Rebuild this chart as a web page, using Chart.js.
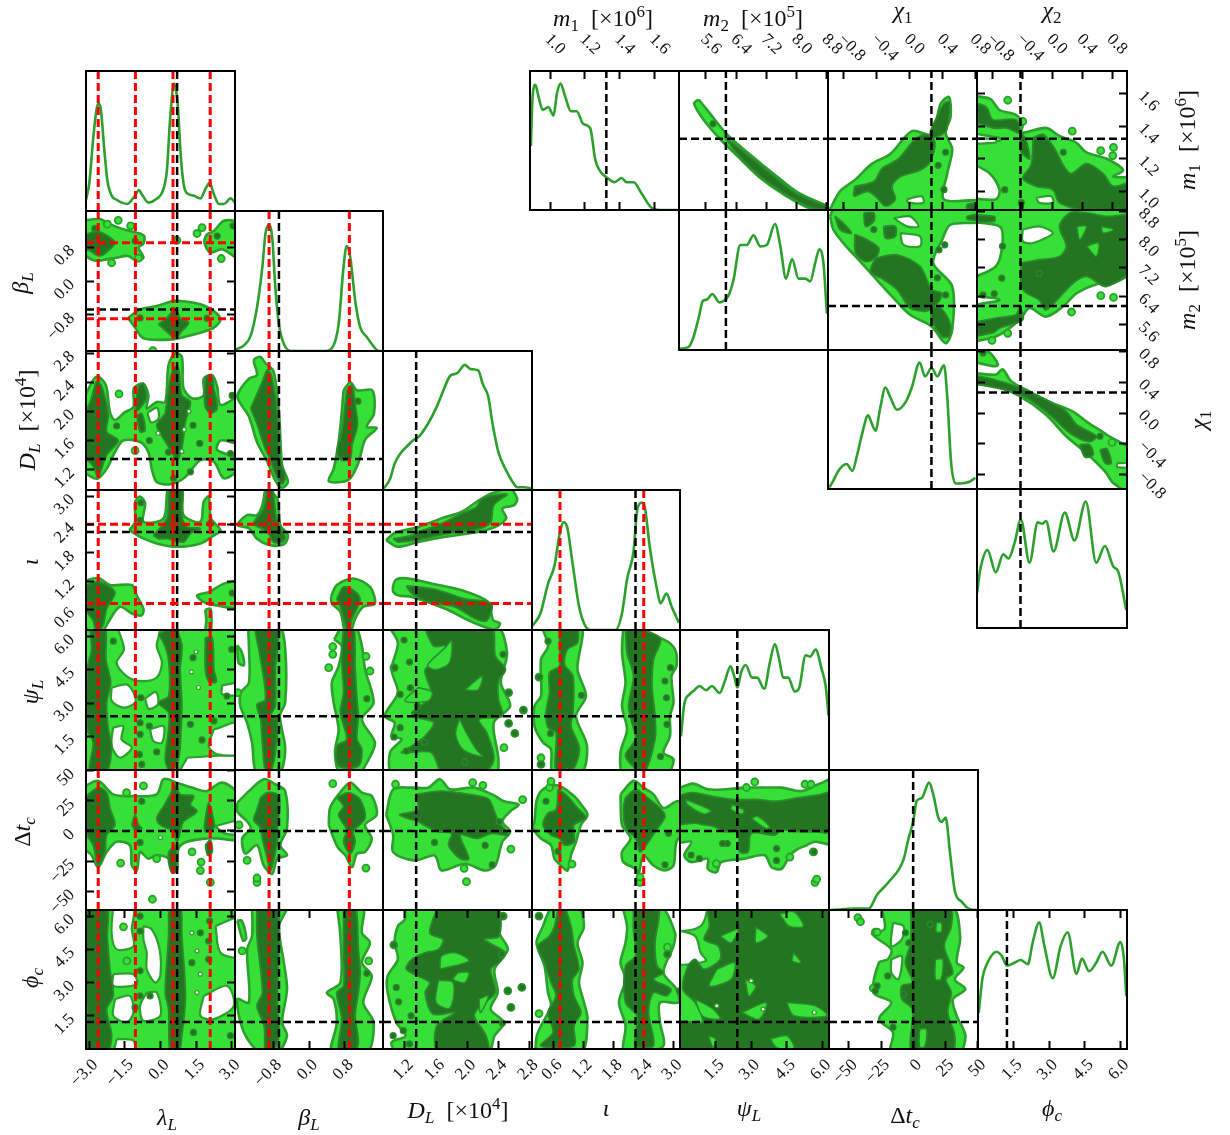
<!DOCTYPE html>
<html><head><meta charset="utf-8"><title>Corner plot</title>
<script src="https://cdn.jsdelivr.net/npm/chart.js@4"></script>
<style>
html,body{margin:0;padding:0;background:#fff;width:1230px;height:1135px;overflow:hidden}
#fig{position:relative;width:1230px;height:1135px}
canvas{position:absolute}
.lab{position:absolute;font-family:"Liberation Serif",serif;font-size:24px;color:#111;white-space:nowrap;line-height:1}
.lab sub{font-size:17px;vertical-align:-5px;line-height:0}
.lab sup{font-size:17px;vertical-align:9px;line-height:0}
</style></head><body><div id="fig"></div>
<script>
// ---- axis ranges, ticks, true values, secondary (red) values ----
const lamRange=[-3.14,3.14], lamTicks=[-3,-1.5,0,1.5,3], lamTrue=[0.7], lamRed=[-2.625,-1.057,0.527,2.095];
const betaRange=[-1.65,1.65], betaTicks=[-0.8,0,0.8], betaTrue=[-0.67], betaRed=[-0.89,0.9];
const distRange=[0.92,2.83], distTicks=[1.2,1.6,2,2.4,2.8], distTrue=[1.345], distRed=[];
const iotaRange=[0.17,3.13], iotaTicks=[0.6,1.2,1.8,2.4,3], iotaTrue=[2.24], iotaRed=[0.73,2.405];
const psiRange=[0,6.28], psiTicks=[1.5,3,4.5,6], psiTrue=[2.415], psiRed=[];
const dtRange=[-65.5,50.5], dtTicks=[-50,-25,0,25,50], dtTrue=[0], dtRed=[];
const phiRange=[0,6.28], phiTicks=[1.5,3,4.5,6], phiTrue=[1.22], phiRed=[];
const m1Range=[0.885,1.74], m1Ticks=[1,1.2,1.4,1.6], m1True=[1.323], m1Red=[];
const m2Range=[4.89,8.83], m2Ticks=[5.6,6.4,7.2,8,8.8], m2True=[6.13], m2Red=[];
const chi1Range=[-0.985,0.82], chi1Ticks=[-0.8,-0.4,0,0.4,0.8], chi1True=[0.268], chi1Red=[];
const chi2Range=[-1,1], chi2Ticks=[-0.8,-0.4,0,0.4,0.8], chi2True=[-0.42], chi2Red=[];

// ---- 1-D marginals: x values and heights (fraction of the panel's height) ----
const lamX=[-3.14,-3,-2.83,-2.69,-2.61,-2.51,-2.38,-2.24,-2.06,-1.85,-1.63,-1.39,-1.21,-1.07,-0.91,-0.79,-0.5,-0.22,0.13,0.27,0.41,0.58,0.72,0.87,1,1.19,1.4,1.68,1.9,2.07,2.25,2.46,2.67,2.96,3.14];
const lamH=[0.08,0.2,0.53,0.73,0.77,0.72,0.46,0.22,0.11,0.08,0.06,0.05,0.08,0.11,0.15,0.12,0.06,0.08,0.16,0.29,0.67,0.91,0.77,0.36,0.17,0.12,0.11,0.09,0.16,0.2,0.12,0.05,0.05,0.09,0.06];
const betaX=[-1.64,-1.45,-1.3,-1.16,-1.04,-0.97,-0.9,-0.82,-0.75,-0.67,-0.56,-0.41,0.36,0.51,0.66,0.77,0.84,0.92,1.03,1.14,1.29,1.4,1.55,1.64];
const betaH=[0.01,0.04,0.11,0.31,0.6,0.84,0.9,0.81,0.45,0.19,0.05,0,0,0.02,0.19,0.6,0.75,0.67,0.36,0.17,0.1,0.05,0,0];
const distX=[0.93,1.01,1.07,1.14,1.22,1.31,1.39,1.5,1.61,1.69,1.78,1.87,1.97,2.04,2.14,2.2,2.27,2.32,2.36,2.4,2.49,2.58,2.64,2.73,2.82];
const distH=[0.01,0.08,0.19,0.26,0.31,0.36,0.39,0.48,0.6,0.71,0.82,0.84,0.9,0.87,0.86,0.76,0.67,0.49,0.37,0.27,0.15,0.06,0.02,0.02,0.01];
const iotaX=[0.18,0.34,0.49,0.62,0.72,0.8,0.87,0.98,1.11,1.25,1.35,1.84,1.97,2.07,2.2,2.28,2.37,2.43,2.53,2.67,2.74,2.86,2.96,3.11];
const iotaH=[0.03,0.12,0.33,0.46,0.68,0.77,0.74,0.48,0.17,0.02,0,0,0.12,0.36,0.56,0.87,0.91,0.87,0.58,0.29,0.19,0.26,0.17,0.05];
const psiX=[0.04,0.18,0.4,0.61,0.82,1.1,1.34,1.67,1.88,2.13,2.27,2.42,2.58,2.77,3.04,3.25,3.55,3.79,4,4.17,4.35,4.56,4.84,5.01,5.3,5.48,5.72,5.97,6.14,6.26];
const psiH=[0.24,0.47,0.54,0.57,0.6,0.57,0.6,0.55,0.63,0.74,0.68,0.59,0.7,0.75,0.66,0.66,0.58,0.77,0.9,0.8,0.66,0.66,0.56,0.58,0.82,0.81,0.86,0.72,0.6,0.39];
const dtX=[-63.6,-45,-34.6,-28,-19,-7.5,-3.6,0,2.8,6.7,12.4,15.8,19.6,22.2,25.3,28.7,32.6,37.7,44.2,50];
const dtH=[0,0.01,0.01,0.11,0.2,0.36,0.51,0.63,0.78,0.8,0.91,0.82,0.66,0.63,0.66,0.41,0.13,0.06,0.005,0];
const phiX=[0.03,0.18,0.4,0.78,1,1.23,1.53,1.8,2.1,2.31,2.58,2.8,3.15,3.48,3.78,4.15,4.38,4.68,4.98,5.25,5.62,6,6.15,6.25];
const phiH=[0.26,0.5,0.62,0.7,0.67,0.6,0.62,0.64,0.61,0.77,0.91,0.74,0.51,0.74,0.84,0.54,0.65,0.56,0.62,0.7,0.6,0.77,0.65,0.38];
const m1X=[0.89,0.9,0.916,0.933,0.958,0.99,1.02,1.04,1.06,1.086,1.12,1.153,1.19,1.23,1.26,1.287,1.33,1.37,1.41,1.44,1.48,1.52,1.59,1.65,1.74];
const m1H=[0.46,0.82,0.9,0.82,0.72,0.74,0.68,0.84,0.91,0.82,0.71,0.71,0.62,0.59,0.36,0.28,0.23,0.2,0.23,0.2,0.2,0.13,0.01,0,0];
const m2X=[4.92,5.14,5.27,5.41,5.52,5.63,5.77,5.96,6.07,6.2,6.33,6.51,6.68,6.86,7.04,7.21,7.43,7.57,7.72,7.88,8.05,8.23,8.36,8.49,8.6,8.71,8.8];
const m2H=[0.01,0.02,0.09,0.23,0.35,0.36,0.4,0.34,0.35,0.39,0.5,0.75,0.75,0.82,0.74,0.75,0.9,0.74,0.51,0.65,0.51,0.51,0.49,0.62,0.72,0.62,0.26];
const chi1X=[-0.97,-0.92,-0.86,-0.76,-0.69,-0.63,-0.57,-0.5,-0.46,-0.41,-0.35,-0.29,-0.23,-0.15,-0.04,0.03,0.125,0.19,0.27,0.34,0.42,0.46,0.505,0.56,0.62,0.72,0.8];
const chi1H=[0.01,0.06,0.13,0.18,0.13,0.25,0.4,0.53,0.48,0.42,0.59,0.73,0.66,0.57,0.63,0.73,0.91,0.81,0.87,0.81,0.89,0.66,0.2,0.04,0.04,0.05,0.08];
const chi2X=[-1,-0.96,-0.86,-0.75,-0.65,-0.58,-0.5,-0.415,-0.3,-0.19,-0.13,-0.08,0.02,0.17,0.3,0.45,0.59,0.705,0.82,0.88,0.99];
const chi2H=[0.25,0.41,0.56,0.4,0.53,0.5,0.61,0.78,0.47,0.76,0.75,0.77,0.55,0.83,0.63,0.91,0.47,0.59,0.44,0.41,0.13];

// ---- 2-D contours: flat x,y lists in data units ----
const lamBetaLight=[[-3.3,1.42,-2.56,1.46,-2.13,1.34,-1.57,1.22,-1,1.14,-0.69,1.06,-0.72,0.88,-0.93,0.79,-0.72,0.55,-1,0.47,-1.36,0.59,-1.85,0.55,-2.27,0.51,-2.7,0.47,-3.05,0.55,-3.3,0.71],[3.3,1.42,2.67,1.42,2.25,1.18,1.96,1.1,1.85,0.91,2.1,0.67,2.6,0.75,3.3,0.55],[-1.36,-0.87,-0.86,-0.67,-0.16,-0.59,0.55,-0.47,1.12,-0.49,1.68,-0.55,2.25,-0.71,2.53,-0.91,2.25,-1.1,1.68,-1.22,1.12,-1.3,0.41,-1.38,-0.72,-1.35,-1.07,-1.1]];
const lamBetaDark=[[-3.3,1.06,-2.7,1.17,-2.34,1.1,-1.92,0.91,-2.2,0.71,-2.56,0.59,-2.98,0.71,-3.3,0.79],[-0.08,-1.02,0.27,-0.87,0.62,-0.67,0.83,-0.87,1.19,-0.98,0.9,-1.18,0.62,-1.34,0.27,-1.2]];
const lamBetaDots=[-1.07,0.94,-0.86,-0.87,1.96,-0.88,2.39,1.06,3.06,1.3,-2.77,1.24];
const lamBetaSpots=[-1.78,1.43,-1.26,1.3,-2.06,0.43,-0.93,0.54,1.75,1.26,1.54,1.12,2.56,0.53,-0.32,-1.64,0.69,0.96,-2.24,1.34];

const lamDistLight=[[-3.3,2.13,-2.84,2.43,-2.63,2.48,-2.3,2.36,-2.13,1.99,-1.92,1.88,-1.5,1.99,-1.14,2.06,-1.12,2.32,-0.72,2.38,-0.51,2.22,-0.58,2.04,-0.16,2.13,0.2,2.13,0.34,2.64,0.62,2.8,0.9,2.75,0.97,2.32,1.33,2.18,1.82,2.22,1.82,2.45,2.18,2.5,2.39,2.34,2.53,2.09,3.3,2.18,3.3,1.58,2.53,1.6,2.39,1.47,3.3,1.35,3.3,1.21,2.67,1.08,2.25,1.31,1.68,1.33,1.05,1.1,0.41,1,-0.16,1.03,-0.37,1.21,-0.51,1.44,-0.86,1.58,-1.57,1.6,-1.92,1.44,-2.27,1.21,-2.63,1.08,-2.91,1.1,-3.3,1.21]];
const lamDistVoid=[[-0.55,1.98,-0.15,2.05,-0.08,1.9,-0.4,1.85]];
const lamDistDark=[[-3.3,1.86,-2.91,2.18,-2.7,2.41,-2.49,2.36,-2.2,1.95,-2.27,1.72,-1.78,1.6,-2.27,1.4,-2.63,1.1,-2.84,1.25,-3.3,1.42],[0.2,1.97,0.41,2.45,0.58,2.61,0.76,2.59,0.9,2.22,1.26,2.13,1.05,1.86,0.9,1.49,0.69,1.33,0.48,1.44,-0.01,1.7,-0.16,1.81],[-1.07,2,-0.93,2.34,-0.72,2.38,-0.6,2.18,-0.93,2.02],[-1,1.95,-0.79,1.97,-0.65,1.74,-0.86,1.72],[1.85,2.22,1.93,2.48,2.18,2.48,2.25,2.32,2.39,2.04,2.1,1.97,1.89,2.06]];
const lamDistDots=[-1.85,1.8,-0.47,1.6,1.37,1.81,1.26,1.17,1.65,1.56,0.34,1.44,0.55,1.08,2.95,1.42,3.02,2.22];
const lamDistSpots=[-1.07,1.46,-1.75,2.24];
const lamDistPores=[1.2,2,1,1.75,-0.1,1.7,0.9,1.45];

const lamIotaLight=[[-1.31,2.28,-1.07,2.46,-1.07,2.88,-0.86,2.99,-0.65,2.85,-0.72,2.46,0.13,2.53,0.34,3.2,0.9,3.2,0.97,2.6,1.68,2.46,1.82,2.88,2.03,2.99,2.13,2.53,2.53,2.28,2.25,2.17,1.68,2,0.69,1.93,-0.16,2,-0.86,2.14],[-3.3,1.19,-2.63,1.27,-2.13,1.12,-1.21,1.12,-1,0.9,-0.72,0.62,-0.79,0.48,-1.21,0.52,-1.71,0.66,-2.2,0.34,-2.49,0.1,-2.98,0.1,-3.3,0.55],[3.3,1.22,2.67,1.15,2.03,0.97,1.54,0.9,1.82,0.76,2.25,0.7,3.3,0.66],[1.89,0.6,2.1,0.62,2.15,0.4,2.1,0.1,1.9,0.1,1.93,0.37]];
const lamIotaDark=[[-0.3,2.17,0.27,2.53,0.41,3.2,0.9,3.2,0.9,2.6,1.12,2.35,1.68,2.32,1.26,2.21,0.97,2.03,0.27,2.1,-0.08,2.1],[-3.3,1.08,-2.63,1.19,-1.92,0.97,-2.27,0.62,-2.42,0.27,-2.7,0.1,-2.84,0.37,-3.3,0.69]];
const lamIotaDots=[-0.83,2.86,-0.86,2.49,2.08,2.42,3.02,0.95];

const lamPsiLight=[[-3.6,6.6,3.6,6.6,3.6,-0.4,-3.6,-0.4]];
const lamPsiVoid=[[-1.78,6.3,-1.54,5.41,-1.85,4.81,-1.43,4.21,-0.86,3.99,-0.16,4.14,0.06,4.81,-0.16,5.56,-0.08,6.3],[-2.06,3.69,-1.43,3.84,-1.14,3.47,-1.07,3.02,-1.57,2.8,-2.06,3.1],[-0.65,3.2,-0.2,3.5,-0.1,2.95,-0.5,2.75],[-2,1.9,-1.57,1.97,-1.64,1.37,-1.21,1,-1.71,0.55,-2.06,1.08],[-0.44,1.82,0.13,1.97,0.06,1.23,-0.3,1.3],[2.25,1.82,3.4,2.12,3.4,0.78,2.39,0.7,2.03,1.08],[1.12,0.55,3.4,0.6,3.4,-0.2,0.83,-0.2],[2.6,3.8,3.4,3.9,3.4,3.4,2.6,3.4]];
const lamPsiDark=[[-2.98,6.4,-2.34,6.4,-2.3,4.96,-2.1,3.92,-2.27,3.02,-2.2,1.82,-2.06,1.08,-2.27,-0.1,-2.98,-0.1,-2.84,1.23,-3.09,1.82,-3.09,4.51,-2.91,5.41],[-0.08,6.08,0.55,6.4,0.9,5.63,0.83,4.51,0.9,3.02,0.87,1.97,0.76,0.48,0.41,-0.1,0.2,0.48,0.34,1.82,0.34,2.57,-0.08,3.02,0.34,3.32,0.34,4.96,0.13,5.71],[1.89,5.93,2.18,5.93,2.25,4.51,2.35,3.95,2.05,3.95,1.89,4.51]];
const lamPsiDots=[-1.99,5.78,1.37,5.04,3,5.41,2.8,3.32,-0.83,3.24,-0.86,2.12,-0.47,1.97,-0.86,1.6,-0.16,0.81,1.26,2.05,1.75,1.35,2.25,2.2,-0.89,0.7,-0.79,0.25];
const lamPsiPores=[1.6,3.7,1.3,4.4,1.5,5.3];

const lamDtLight=[[-3.3,35.9,-2.63,41.5,-1.99,30.3,-1.14,28.9,-0.16,30.3,0.13,42.9,0.69,40,1.33,35.9,1.96,33,2.53,40,3.02,35.9,3.3,27.5,3.3,-6.2,2.39,-6.2,1.96,-6.2,1.12,-9,0.76,-14.6,0.69,-32.8,0.48,-34,0.34,-23,-0.16,-20,-0.51,-23,-0.86,-17.4,-1,-32.8,-1.21,-28.6,-1.29,-11.8,-1.85,-9,-2.27,-17.4,-2.63,-30,-2.91,-20,-3.3,-11.8]];
const lamDtVoid=[[2.3,4,3.3,8,3.3,-2,2.7,-2]];
const lamDtDark=[[-3.3,26,-2.63,35.9,-2.27,31.7,-2.13,19,-1.92,5,-2.27,-3.4,-2.34,-17.4,-2.63,-28.6,-2.84,-11.8,-3.09,-3.4,-3.3,7.8],[0.13,20.4,0.41,30.3,0.62,38.7,0.83,30.3,1.4,28.9,1.26,21.8,1.54,16.2,0.97,7.8,0.83,-0.6,0.69,-9,0.55,-0.6,-0.01,5,-0.16,10.6],[0.34,-17.4,0.62,-11.8,0.69,-32.8,0.48,-34,0.34,-25.8],[-1.21,5,-1.07,13.4,-0.93,5,-0.79,2.2,-1.07,0.8],[1.85,5,2.03,23.2,2.25,7.8,2.25,2.2,1.89,-0.6],[1.89,-11.8,2.1,-7.6,2.18,-17.4,1.99,-20.2]];
const lamDtDots=[-0.79,24.6,-0.86,-9.5];
const lamDtSpots=[1.33,-17.4,-1.68,-26.6,1.71,-25.8,1.68,-32.8,2.1,-42.6,-0.34,-56.6,-0.72,37.3,-1.43,31.7,-0.16,-23];
const lamDtPores=[0,-5.5];

const lamPhiLight=[[-3.6,6.6,3.6,6.6,3.6,-0.4,-3.6,-0.4]];
const lamPhiVoid=[[-2,6.4,-1.14,6.4,-1.21,5.41,-1.14,4.65,-1.85,4.5,-2.06,5.2],[-0.72,5.56,-0.37,5.41,-0.04,4.5,-0.01,3.3,-0.22,3,-0.58,3.6,-0.58,4.35,-0.72,4.95],[-1.99,3.38,-1.14,3.38,-1,2.93,-1.99,2.85],[-1.92,2.25,-1.29,2.4,-1.14,1.65,-1.43,1.2,-1.99,1.5],[-0.58,2.55,-0.16,2.55,-0.01,1.5,-0.72,1.28,-0.86,1.95],[2.32,5.56,3.4,5.93,3.4,4.2,2.53,4.35],[1.82,2.4,2.81,2.85,3.09,1.95,2.25,1.35,1.68,1.5],[-1.85,0.45,-1.14,0.38,-1.14,-0.2,-1.92,-0.2]];
const lamPhiDark=[[-3.3,6.5,-2.27,6.5,-2.24,5.1,-2.13,3.6,-1.99,2.4,-2.27,1.8,-2.06,0.6,-2.27,-0.2,-3.09,-0.2,-3.09,1.8,-3.3,3],[0.34,6.5,0.83,6.5,0.9,5.1,1.05,2.4,0.9,0.6,0.76,-0.2,0.41,-0.2,0.34,1.8,0.2,2.55,0.34,5.1]];
const lamPhiDots=[-0.86,6,-0.86,5.33,-0.86,3.53,-0.86,2.4,-1.07,1.88,-0.44,2.4,1.32,3.9,1.68,5.25,2.03,4.88,2.03,4.05,2.07,5.78,2.95,0.6,1.39,0.75];
const lamPhiSpots=[-1.56,5.52,-1.42,3.98];
const lamPhiPores=[1.68,3.38,1.54,2.55,1.32,5.25,1.54,4.43];

const betaDistLight=[[-1.21,2.73,-1.08,2.75,-0.97,2.66,-0.79,2.55,-0.67,1.99,-0.6,1.26,-0.47,1.03,-0.6,0.95,-0.75,1.05,-0.93,1.31,-1.16,1.58,-1.34,1.93,-1.53,2.11,-1.6,2.22,-1.34,2.45,-1.16,2.5,-1.23,2.68],[0.77,2.29,0.92,2.4,1.07,2.29,1.41,2.29,1.45,1.97,1.29,1.79,1.51,1.77,1.25,1.61,1.1,1.29,0.88,1.06,0.44,1.04,0.55,1.21,0.66,1.58,0.73,1.99]];
const betaDistDark=[[-1.3,2.04,-1.04,2.41,-0.93,2.57,-0.84,2.5,-0.71,1.99,-0.65,1.35,-0.53,1.1,-0.6,1,-0.75,1.14,-0.86,1.33,-1.01,1.54,-1.16,1.83],[0.84,2.29,0.96,2.36,1.03,2.09,1.08,1.81,0.96,1.54,0.92,1.35,0.73,1.33,0.62,1.44,0.73,1.71]];
const betaDistDots=[1.09,2.14];

const betaIotaLight=[[-0.97,3.2,-0.71,2.95,-0.64,2.39,-0.47,2.17,-0.56,1.98,-0.86,1.96,-1.16,2.1,-1.34,2.32,-1.59,2.39,-1.38,2.6,-1.16,2.6,-1.04,2.81],[0.49,0.87,0.62,1.12,0.99,1.26,1.36,1.08,1.47,0.73,1.21,0.66,1.03,0.41,0.92,0.1,0.81,0.1,0.7,0.55,0.51,0.73]];
const betaIotaDark=[[-0.93,3.2,-0.82,3.2,-0.71,2.44,-0.53,2.14,-0.6,2.03,-0.79,2.03,-0.93,2.25,-1.23,2.42,-1.01,2.74],[0.62,0.83,0.77,1.08,0.99,1.01,1.14,0.83,1.07,0.62,0.96,0.41,0.88,0.1,0.77,0.41,0.7,0.66]];

const betaPsiLight=[[-1.36,6.5,-0.67,6.5,-0.53,5.41,-0.53,3.02,-0.65,2.43,-0.53,0.93,-0.67,-0.2,-1.16,-0.2,-1.27,1.23,-1.38,2.12,-1.53,2.87,-1.52,3.47,-1.34,3.92,-1.34,5.56],[-1.6,5.6,-1.5,5.3,-1.45,4.7,-1.57,4.8],[0.56,5.86,0.77,6.5,1.03,6.5,1.18,5.56,1.25,4.51,1.44,3.02,1.18,2.27,1.47,1.23,1.33,0.48,1.1,-0.2,0.7,-0.2,0.58,0.78,0.66,1.82,0.55,3.02,0.51,3.92,0.66,4.66,0.73,5.56]];
const betaPsiDark=[[-1.23,6.5,-0.71,6.5,-0.75,4.51,-0.75,2.87,-0.86,2.42,-0.71,2.27,-0.75,0.78,-0.86,-0.1,-0.97,-0.1,-1.04,1.23,-1.08,2.27,-1.16,2.94,-0.97,3.17,-1.08,4.96],[0.77,6.5,0.99,6.5,1.03,4.51,1.07,3.17,1.1,2.42,1.07,1.38,1.18,0.93,1.1,0.18,0.66,0.18,0.62,1.08,0.84,1.38,0.7,2.57,0.77,3.47,0.73,4.96]];
const betaPsiDots=[1.29,3.2];
const betaPsiSpots=[0.44,4.59,0.53,5.53,0.53,5.19,1.36,4.44,1.27,5.1,-1.59,3.47];

const betaDtLight=[[-1.6,23.2,-1.34,33,-1.01,42.9,-0.75,38.7,-0.53,33,-0.49,2.2,-0.64,-11.8,-0.49,-20.2,-0.71,-23,-0.82,-35.6,-1.01,-28.6,-1.16,-11.8,-1.42,-18.8,-1.49,-6.2,-1.3,2.2,-1.38,7.8,-1.6,16.2],[0.44,5,0.47,19,0.66,30.3,0.92,40,1.18,31.7,1.4,28.9,1.51,13.4,1.25,5,1.4,-6.2,1.25,-17.4,1.07,-18.8,0.96,-30,0.81,-20.2,0.66,-14.6,0.55,-6.2]];
const betaDtDark=[[-1.08,27.5,-0.93,31.7,-0.71,30.3,-0.65,21.8,-0.71,2.2,-0.71,-9,-0.86,-32.8,-0.93,-23,-1.04,-6.2,-1.08,2.2,-1.23,9.2,-1.16,17.6],[0.62,27.5,0.88,31.7,1.14,26,1.25,10.6,0.99,-0.6,1.03,-9,0.92,-18.8,0.77,-9,0.84,0.8,0.66,13.4,0.77,20.4]];
const betaDtSpots=[-1.16,-42.6,-1.16,-39,-1.38,-24.4,-1.56,5,0.53,39.2,1.27,-30.8];

const betaPhiLight=[[-1.27,6.5,-0.49,6.5,-0.67,5.55,-0.56,3.9,-0.49,2.7,-0.6,1.2,-0.49,0.6,-0.71,-0.2,-1.08,-0.2,-1.45,0.75,-1.6,2.25,-1.34,2.1,-1.38,4.5,-1.27,5.1],[-1.6,5.8,-1.5,5.8,-1.4,5,-1.47,4.9],[0.62,6.5,1.21,6.5,1.18,5.25,1.36,4.8,1.18,3.9,1.4,3.3,1.21,2.1,1.44,1.2,1.29,-0.2,0.51,-0.2,0.62,1.2,0.55,2.25,0.4,2.55,0.7,3,0.7,5.1]];
const betaPhiDark=[[-1.16,6.5,-0.71,6.5,-0.71,2.1,-0.67,0.6,-0.82,-0.2,-0.97,-0.2,-1,1.05,-1.16,1.95,-1.04,2.55,-1.16,5.1],[0.77,6.5,1.03,6.5,1.1,4.5,1.14,3.45,1.1,2.55,1.03,1.5,1.1,0.3,0.99,-0.2,0.66,-0.2,0.73,1.35,0.62,2.55,0.77,2.85,0.77,4.5]];
const betaPhiDots=[1.29,3.42];
const betaPhiSpots=[1.33,3.98,-1.49,4.43];

const distIotaLight=[[0.96,2.07,1.07,2.22,1.37,2.35,1.67,2.53,1.93,2.67,2.12,2.88,2.32,3.06,2.55,3.15,2.64,2.95,2.6,2.81,2.45,2.74,2.5,2.53,2.36,2.35,2.15,2.25,1.72,2.14,1.37,2.03,1.11,1.93],[1.05,1.12,1.09,1.24,1.24,1.26,1.63,1.12,1.93,1.01,2.27,0.76,2.33,0.38,2.42,0.31,2.36,0.18,2.23,0.23,2.02,0.37,1.72,0.62,1.29,0.87,1.12,0.9,1.05,0.98]];
const distIotaDark=[[1.05,2.1,1.29,2.17,1.37,2.24,1.67,2.42,1.93,2.63,2.12,2.77,2.19,2.95,2.51,3.04,2.34,2.81,2.3,2.45,2.15,2.31,1.72,2.2,1.41,2.09,1.11,2.03],[1.22,1.1,1.37,1.08,1.63,1.01,1.97,0.83,2.31,0.73,2.25,0.37,2.1,0.41,1.84,0.66,1.5,0.76,1.29,0.94]];

const distPsiLight=[[0.98,6.5,2.36,6.5,2.51,5.26,2.43,3.92,2.55,2.87,2.34,2.12,2.4,0.48,2.36,-0.2,1.05,-0.2,1.01,0.78,1.16,1.38,1.03,1.52,1.07,2.12,0.94,2.42,1.11,3.47,1.03,4.51,1.11,5.71]];
const distPsiDark=[[1.44,6.5,2.3,6.5,2.36,5.11,2.49,4.51,2.4,3.99,2.4,3.17,2.45,2.42,2.15,2.27,2.25,1.67,2.34,0.48,2.19,-0.2,1.69,-0.2,1.54,0.78,1.16,0.78,1.29,1.08,1.46,1.52,1.57,2.12,1.37,2.35,1.29,2.57,1.54,3.32,1.46,4.51,1.67,4.81,1.72,5.56,1.57,5.56]];
const distPsiPatch=[[1.72,5.5,1.8,5.8,1.77,4.8,1.59,4.5,1.49,4.7],[1.97,3.6,2.19,4.2,2.14,3.6],[1.9,2.3,2,1.6,2.12,0.9,2.2,0.6,1.95,0.9,1.85,1.6],[1.37,3.7,1.55,3.5,1.5,3.1,1.2,3.1]];
const distPsiDots=[1.19,5.83,1.26,4.84,1.07,4.59,1.27,3.69,1.14,3.39,2.46,5.19,2.53,3.47,2.72,2.69,2.53,2.09,2.61,1.64,1.14,1.9,1.06,1.48,1.36,2.87,1.22,0.85,1.45,1.23,1.97,0.36];
const distPsiSpots=[2.72,2.69,2.53,2.09,2.61,1.64,2.53,3.47,2.47,1,1.06,4.59];

const distDtLight=[[0.96,13.4,1.05,34.5,1.29,35.9,1.5,35.9,1.65,42.9,1.78,34.5,2.08,35.9,2.32,30.3,2.47,24.6,2.66,21.8,2.55,16.2,2.45,7.8,2.55,-0.6,2.45,-9,2.36,-28.6,2.23,-32.8,1.97,-27.2,1.67,-32.8,1.61,-23,1.57,-20.2,1.31,-24.4,1.05,-17.4,1.05,-3.4]];
const distDtDark=[[1.34,30.3,1.67,33,2.15,28.9,2.28,26,2.4,7.8,2.53,-3.4,2.32,-2,2.12,-6.2,1.91,-3.4,2.02,-23,1.91,-23,1.76,-11.8,1.8,-2,1.63,-0.6,1.44,5,1.37,7.8,1.13,13.4,1.37,17.6]];
const distDtDots=[2.32,-28,1.58,-9.5,2.23,-12,2.41,7.8];
const distDtSpots=[2.71,26,2.56,-15,1.96,-31,1.99,-42,1.08,38.7,2.07,40,2.2,37.8];

const distPhiLight=[[1.2,6.5,2.37,6.5,2.41,5.25,2.52,4.5,2.35,3.6,2.39,2.55,2.3,1.8,2.47,1.2,2.35,0.6,2.26,-0.2,1.11,-0.2,1.03,0.3,1.21,0.6,1.09,1.2,0.98,2.55,0.98,3.3,1.11,4.05,1.07,4.8,1.11,5.55,1.2,5.85]];
const distPhiDark=[[1.63,6.5,2.37,6.5,2.41,5.1,2.22,4.95,2.49,4.35,2.41,3.9,2.3,3.6,2.36,2.55,2.17,1.95,2.09,1.5,2.24,0.6,2.26,-0.2,1.63,-0.2,1.61,1.05,1.84,1.65,1.56,1.58,1.46,2.55,1.52,3,1.22,3.6,1.29,4.05,1.46,4.35,1.63,4.5,1.69,4.95,1.52,5.25]];
const distPhiPatch=[[1.65,3.6,2.02,3.98,1.85,4.35,1.67,4.2],[1.88,3.45,2.02,3.45,1.97,3,1.82,3.15],[1.63,3.1,1.82,3,1.78,1.85,1.6,2.1],[2.15,2.25,2.27,2.4,2.17,1.65]];
const distPhiDots=[1.12,2.13,1.09,2.78,1.28,1.5,1.18,0.83,1.05,0.6,1.26,0.23,2.7,2.78,2.52,2.63,2.56,1.88,2.45,1.17,2.46,6,1.06,4.7,2.44,4.28];
const distPhiSpots=[2.7,2.78,2.52,2.63,2.56,1.88,2.46,6,1.06,4.7];

const iotaPsiLight=[[0.35,6.5,1.15,6.5,1.08,4.51,1.25,3.32,1.05,2.42,1.27,1.08,1.15,-0.2,0.59,-0.2,0.55,0.93,0.39,1.23,0.22,1.97,0.22,2.87,0.35,3.32,0.35,4.96,0.49,5.56],[2,6.5,2.8,5.86,3.03,5.41,3.06,4.66,2.96,4.21,3,3.02,2.93,2.42,2.93,1.52,2.8,0.78,3,0.48,2.86,-0.2,2,-0.2,1.94,0.78,2.07,1.82,1.97,2.87,2.04,3.92,1.97,5.26]];
const iotaPsiDark=[[0.72,6.5,1.05,6.5,1.08,5.71,0.88,5.41,0.82,4.74,0.99,4.21,0.99,2.57,0.95,1.97,1.12,0.93,0.95,-0.1,0.65,-0.1,0.65,1.67,0.49,1.9,0.45,2.57,0.52,3.47,0.52,4.37,0.72,4.66,0.72,5.56],[2.04,6.5,2.73,5.93,2.6,4.96,2.57,3.77,2.63,2.42,2.63,1.38,2.4,-0.1,2.04,0.63,2.24,1.38,2.17,2.12,2.1,2.87,2.2,4.21,2.07,5.26]];
const iotaPsiDots=[0.31,4.17,0.54,1.64,0.35,0.25,1.16,3.35,0.49,5.78,2.94,4.59,2.86,3.24,2.87,2.05,2.74,0.6,2.83,3.99];
const iotaPsiSpots=[0.35,0.25,0.35,0.55,0.31,4.17];

const iotaDtLight=[[0.22,7.8,0.26,24.6,0.35,33,0.52,37.3,0.72,37.3,1.01,28.9,1.18,20.4,1.28,13.4,1.15,5,1.05,-9,0.95,-20,0.88,-32.8,0.75,-28.6,0.62,-23,0.55,-11.8,0.35,-6.2,0.19,2.2],[1.94,30.3,2.2,41.5,2.4,35.9,2.6,30.3,2.8,19,3.1,24.6,3.3,5,3.06,-9,3,-28.6,2.83,-32.8,2.6,-28.6,2.4,-20.2,2.3,-35.6,2.24,-31.4,2,-25.8,1.97,-17.4,2.14,-6.2,1.97,5]];
const iotaDtDark=[[0.69,34.5,0.88,28.9,1.05,20.4,1.25,10.6,1.01,5,1.01,-9,0.82,-11.8,0.72,-6.2,0.55,-3.4,0.39,5,0.49,14.8,0.65,17.6],[2.04,27.5,2.24,34.5,2.4,30.3,2.83,13.4,2.63,-0.6,2.5,-9,2.33,-17.4,2.24,-6.2,2.04,3.4,2,19]];
const iotaDtDots=[0.69,-17,0.45,24.6,2.83,-28,2.9,-2];
const iotaDtSpots=[0.52,36,0.55,41,0.97,-27.5,2.33,-42.6,2.33,-38];

const iotaPhiLight=[[0.45,5.93,0.6,6.5,1.08,6.5,1.21,5.55,1.08,4.8,1.18,3.9,1.11,3,1.21,2.1,1.28,1.35,1.15,-0.2,0.28,-0.2,0.26,0.53,0.35,1.05,0.55,1.95,0.49,2.55,0.42,3.75,0.26,4.8,0.39,5.55],[1.97,6.5,2.73,6.5,3.03,5.25,3,4.65,2.8,3.45,3.06,2.7,3.1,2.1,2.73,2.1,2.73,1.2,2.8,0.15,2.4,-0.2,2,-0.2,2.04,1.05,1.91,2.1,2.04,3.15,1.94,3.9,2.04,4.8,2.07,5.55]];
const iotaPhiDark=[[0.7,6.5,0.8,6.5,0.95,5.55,1.01,4.65,1.11,3.6,0.98,3.15,1.01,2.4,1.15,1.65,1.01,1.05,1.01,0.15,0.35,0.15,0.59,0.75,0.49,1.65,0.65,2.4,0.55,3,0.42,3.9,0.29,4.65,0.52,5.1,0.62,5.55],[2.2,6.5,2.7,6.5,2.63,4.8,2.67,3.75,2.8,3.45,2.6,3.15,2.95,2.7,2.85,2.4,2.6,2.55,2.5,1.65,2.6,0.15,2.24,0.15,2.27,1.5,2.04,2.1,2.04,3.75,2.24,4.2,2.2,5.4]];
const iotaPhiDots=[0.31,6,2.88,4.28,3.12,2.63];
const iotaPhiSpots=[0.31,1.6,0.31,6,2.88,4.28,2.88,4.6];

const psiDtLight=[[-0.3,33,0.54,39.2,1.17,34.5,1.88,34.5,2.73,35.9,3.72,35.9,4.28,35.9,5.13,33,5.83,38.7,6.6,42.9,6.6,-10.4,5.69,-9,5.34,-11.8,4.99,-14.6,4.63,-20.2,4.28,-31.4,3.86,-30,3.57,-20.2,2.73,-23,1.74,-25.8,1.53,-34.2,1.17,-31.4,1.17,-23,0.47,-25.8,0.18,-20.2,0.47,-9,-0.3,-9]];
const psiDtDark=[[-0.3,27.5,0.47,31.7,1.31,28.9,2.3,26,3.29,26,4,24.6,4.99,27.5,5.97,30.3,6.6,33,6.6,-0.6,5.69,-0.6,4.99,-0.6,4.28,0.8,4,-3.4,3.01,-2,2.87,-17.4,2.51,-17.4,2.44,-0.6,1.88,-0.6,1.45,3.6,1.03,5,0.61,6.4,-0.3,6.4]];
const psiDtPatch=[[3,10.6,3.6,2.2,3.8,3,3.3,12],[0.25,26,1.3,17,1,14,0.3,22],[2.2,22,2.7,17,2.6,14,2.15,18]];
const psiDtDots=[1.99,-10.4,1.8,-10.4,5.65,-17.4,4.07,-24.4,0.82,-23,0.47,-20,4.07,-14.6];
const psiDtSpots=[3.15,40.6,2.8,36,5.27,38.7,5.52,38.7,5.69,-42.6,5.76,-40,5.62,-17.4,1.53,-27,4.63,-21.6];

const psiPhiLight=[[-0.4,6.7,6.7,6.7,6.7,-0.4,-0.4,-0.4]];
const psiPhiVoid=[[-0.2,5.4,0.64,5.1,0.87,4.35,1.09,3.98,-0.2,3.9],[3.19,4.35,3.94,4.95,3.79,4.5,3.34,4.2],[5.5,5.25,6.4,5.4,6.4,4.8,5.67,4.95],[-0.2,6.5,1.09,6.5,0.87,5.55,-0.2,5.4]];
const psiPhiDark=[[1.09,6.5,2.59,6.5,6.6,6.5,6.6,-0.2,0.04,-0.2,0.04,1.2,0.94,1.2,0.64,2.1,0.12,2.7,0.34,3.75,0.64,4.05,1.02,3.6,1.69,4.05,1.62,4.65,1.02,4.95,1.24,5.55]];
const psiPhiPatch=[[1.55,3.6,2.3,3.9,2.15,3.15,1.24,2.85],[0.64,2.25,1.4,1.8,1.69,1.35,0.94,1.5],[2.75,3.15,3.19,2.85,2.9,2.4],[1.7,5.1,2.44,5.4,2.15,4.8],[2.6,1.65,3.64,2.1,3.34,1.35],[4.5,2.1,5.7,1.95,6.2,1.5,4.8,1.5],[4.8,4.35,5.1,3.9,4.73,3.98],[3.8,0.45,4.5,0.6,4.8,0.05,4.1,0.05],[1.2,0.6,1.5,0.45,1.4,0.05],[4.2,6.1,4.8,6.2,5.2,5.55,4.6,5.55],[3.2,5.5,3.7,5.1,3.2,4.8]];
const psiPhiPores=[5.66,1.65,3.5,1.8,1.55,1.95,3,3.08];

const dtPhiLight=[[-25.3,6.5,29.7,6.5,36.6,5.1,33.9,3.9,39.3,3.68,32.4,3.15,40.7,2.7,31,2.25,33.9,1.5,40.7,0.6,35.2,-0.2,-17,-0.2,-15.7,0.75,-26.6,1.35,-17,2.1,-30.8,2.55,-26.6,3.9,-19.8,4.05,-17,4.5,-32,5.2,-22.5,5.4,-22.5,5.85]];
const dtPhiVoid=[[-15.7,5.7,-7.4,5.55,-8.8,4.95,-17,4.65],[-17,4.05,-8.8,4.2,-11.5,3.15,-17,3.45]];
const dtPhiDark=[[-1.9,6.5,28.6,6.5,29.7,5.55,24.2,4.65,31,3.45,25.5,3.15,29.7,2.55,26.9,1.65,32.4,0.6,29.7,-0.2,-0.5,-0.2,-0.5,1.8,-8.8,2.25,-8.8,2.85,-0.5,3,-6,3.9,-1.9,4.8]];
const dtPhiPatch=[[17.3,4.05,23,4.05,21.7,3.15,17.3,3.15],[18,5.7,22,5.7,22,5.3,18,5.3],[5,0.9,10.4,0.9,9,0.1,5,0.1]];
const dtPhiDots=[-6,5.25,-3.3,4.8,-19.8,3.3,-29.4,2.63,-28,2.85,-7.4,2.48,-15.7,0.98,13.2,5.63];
const dtPhiSpots=[-43,5.93,-41,5.75,-29.4,5.28,-28,5.28,-31,2.75];

const m2m1Light=[[5.41,1.565,5.67,1.49,6.16,1.35,6.72,1.235,7.43,1.1,8.05,0.99,8.9,0.9,8.9,0.885,8.4,0.89,7.7,0.975,7,1.09,6.4,1.225,6.02,1.31,5.54,1.44,5.29,1.54]];
const m2m1Dark=[[6.1,1.335,6.7,1.225,7.41,1.09,8.03,0.98,8.9,0.895,8.4,0.9,7.7,0.985,7,1.1,6.4,1.24]];
const m2m1Dots=[5.79,1.415];

const chi1m1Light=[[-0.96,0.89,-0.84,1,-0.66,1.07,-0.45,1.17,-0.23,1.23,0.03,1.37,0.27,1.35,0.38,1.54,0.48,1.58,0.5,1.46,0.44,1.36,0.52,1.26,0.46,1.11,0.42,0.95,0.9,0.94,0.9,0.85,-0.96,0.85]];
const chi1m1Void=[[-0.03,0.95,0.15,0.97,0.17,0.93,-0.01,0.93]];
const chi1m1Dark=[[-0.66,1.03,-0.43,1.06,-0.33,1.14,-0.13,1.2,0.07,1.32,0.21,1.35,0.31,1.3,0.25,1.18,0.13,1.13,-0.11,1.09,-0.21,1.03,-0.17,0.95,-0.29,0.91,-0.41,0.97,-0.51,1,-0.67,0.97],[0.27,1.39,0.42,1.54,0.48,1.55,0.48,1.46,0.44,1.37,0.3,1.33,0.25,1.34],[0.7,0.92,0.9,0.93,0.9,0.89,0.7,0.89]];
const chi1m1Dots=[0.35,1.16,0.42,1.01,0.44,1.24];

const chi1m2Light=[[-0.96,8.65,-0.9,8.9,0.9,8.9,0.9,8.51,0.5,8.42,0.4,8,0.29,7.34,0.52,6.68,0.52,5.46,0.44,5.08,0.27,5.55,0.01,5.88,-0.19,6.35,-0.47,7.06,-0.65,7.52,-0.78,7.85,-0.92,8.28]];
const chi1m2Void=[[-0.19,8.6,0.01,8.65,0.11,8.37,-0.03,8.37],[-0.11,8.18,0.13,8.09,0.13,7.81,-0.07,7.85]];
const chi1m2Dark=[[-0.41,7.48,-0.15,7.57,0.13,7.24,0.27,6.59,0.39,6.49,0.36,6.26,0.25,6.02,0.17,5.98,0.01,6.07,-0.15,6.59,-0.31,6.87,-0.47,7.1],[-0.66,8.14,-0.55,8.04,-0.37,7.76,-0.41,7.48,-0.53,7.38,-0.65,7.62],[0.27,6.12,0.38,6.07,0.5,5.6,0.48,5.27,0.4,5.27,0.27,5.74],[-0.55,8.75,-0.43,8.75,-0.43,8.51,-0.53,8.37],[-0.31,8.37,-0.17,8.37,-0.17,8.09,-0.29,8.04],[-0.9,8.65,-0.8,8.46,-0.7,8.18,-0.84,8.28],[0.7,8.66,0.9,8.72,0.9,8.55,0.7,8.57]];
const chi1m2Dots=[0.43,7.85,0.36,7.71,0.34,6.92,0.44,6.44,-0.43,8.28];

const chi2m1Light=[[-1.2,1.59,-0.83,1.57,-0.7,1.5,-0.48,1.47,-0.39,1.41,-0.41,1.36,-0.08,1.39,0.1,1.34,0.32,1.3,0.46,1.24,0.73,1.2,0.95,1.13,0.82,1.09,1.2,1.07,1.2,0.85,-1.2,0.85,-1.2,0.95,-0.75,0.95,-0.7,1.01,-0.83,1.11,-1.2,1.21,-1.2,1.27,-0.68,1.32,-1.2,1.39]];
const chi2m1Void=[[-1.2,1.33,-0.75,1.32,-0.75,1.3,-1.2,1.3],[-0.21,0.96,-0.01,0.97,0.01,0.93,-0.17,0.93]];
const chi2m1Dark=[[-1.2,1.56,-0.88,1.52,-0.79,1.44,-0.48,1.44,-0.43,1.36,-0.61,1.39,-0.79,1.39,-1.2,1.47],[-0.25,1.33,-0.12,1.35,0.01,1.28,0.24,1.11,0.46,1.17,0.68,1.11,0.82,1.03,1.2,1.07,1.2,0.85,0.46,0.88,0.1,0.93,0.01,1.01,-0.21,1.03,-0.39,1.08,-0.28,1.16],[-0.42,1.36,-0.35,1.32,-0.3,1.2,-0.42,1.25]];
const chi2m1Dots=[-0.63,1.01,-0.41,0.93,0.15,1.24];
const chi2m1Spots=[0.27,1.37,0.65,1.25,0.82,1.27,0.81,1.22,-0.59,1.56,-0.39,1.43];

const chi2m2Light=[[-1.2,8.9,1.2,8.9,1.2,7.34,0.82,6.77,0.64,6.77,0.33,6.49,0.15,6.12,-0.08,5.83,-0.3,6.07,-0.43,5.74,-0.75,5.27,-1.2,5.18,-1.2,6.02,-0.7,6.3,-1.2,6.49,-1.2,6.77,-0.75,7.24,-0.66,7.9,-0.7,8.37,-1.2,8.56]];
const chi2m2Void=[[-0.39,8.28,-0.17,8.37,0.01,8.18,-0.25,7.9,-0.39,7.95],[0.88,7.99,1.2,7.99,1.2,7.62,0.88,7.71]];
const chi2m2Dark=[[-0.41,7.34,-0.17,7.43,0.1,7.52,0.19,7.81,0.1,8.37,0.24,8.75,0.46,8.75,0.73,8.65,1.2,8.65,1.2,7.43,0.73,6.68,0.46,6.96,0.28,6.77,-0.08,6.02,-0.17,6.3,-0.34,6.49,-0.41,6.68],[-1.2,5.6,-0.75,5.79,-0.48,5.88,-0.43,6.07,-0.39,5.74,-0.7,5.51,-0.79,5.37,-1.2,5.27],[-1.2,8.7,-0.77,8.65,-0.77,8.51,-1.2,8.51]];
const chi2m2Patch=[[0.33,8.37,0.46,8.37,0.37,8],[0.46,7.81,0.62,7.9,0.59,7.52],[0.66,8.37,0.82,8.28,0.68,8.18]];
const chi2m2Dots=[-0.66,7.81,-0.67,6.91,-0.77,6.47,-0.92,6.44,-0.17,7.04];
const chi2m2Spots=[-0.59,5.36,-0.8,5.16,0.26,5.96,0.65,6.42,0.82,6.37];

const chi2chi1Light=[[-1.2,0.54,-0.75,0.5,-0.66,0.57,-0.54,0.41,-0.3,0.28,0.01,0.13,0.28,0.02,0.46,-0.11,0.73,-0.28,1.2,-0.59,1.2,-1.1,0.82,-0.91,0.71,-0.76,0.46,-0.52,0.19,-0.3,-0.08,-0.02,-0.43,0.22,-0.75,0.35,-1.2,0.41],[-1.2,0.78,-0.86,0.8,-0.72,0.63,-0.79,0.61,-1.2,0.72]];
const chi2chi1Void=[[0.87,-0.65,1.2,-0.65,1.2,-0.7,0.87,-0.7]];
const chi2chi1Dark=[[-1.2,0.52,-0.75,0.43,-0.43,0.33,-0.08,0.17,0.19,0.02,0.33,-0.15,0.59,-0.3,0.5,-0.37,0.24,-0.26,-0.03,-0.02,-0.34,0.2,-0.61,0.3,-1.2,0.43],[0.37,-0.41,0.5,-0.41,0.55,-0.54,0.44,-0.57],[0.64,-0.48,0.73,-0.46,0.79,-0.65,0.71,-0.65]];
const chi2chi1Dots=[-0.92,0.78,0.64,-0.3];
const chi2chi1Spots=[0.8,-0.38];

// ---- text ----
const lamName='<i>λ</i><sub><i>L</i></sub>', betaName='<i>β</i><sub><i>L</i></sub>', distName='<i>D</i><sub><i>L</i></sub>&nbsp; [×10<sup>4</sup>]', iotaName='<i>ι</i>', psiName='<i>ψ</i><sub><i>L</i></sub>', dtName='Δ<i>t</i><sub><i>c</i></sub>', phiName='<i>ϕ</i><sub><i>c</i></sub>';
const m1Name='<i>m</i><sub>1</sub>&nbsp; [×10<sup>6</sup>]', m2Name='<i>m</i><sub>2</sub>&nbsp; [×10<sup>5</sup>]', chi1Name='<i>χ</i><sub>1</sub>', chi2Name='<i>χ</i><sub>2</sub>';

// ---- styles ----
const LINE='#2ca02c', LIGHT='#36e036', DARK='#237522', DARKEDGE='#2b8a2b';
const MARGIN=64;
const axis=(range,ticks,truth,red,digits)=>({range,ticks,truth,red,digits});
const LAM=axis(lamRange,lamTicks,lamTrue,lamRed,1), BETA=axis(betaRange,betaTicks,betaTrue,betaRed,1), DIST=axis(distRange,distTicks,distTrue,distRed,1), IOTA=axis(iotaRange,iotaTicks,iotaTrue,iotaRed,1), PSI=axis(psiRange,psiTicks,psiTrue,psiRed,1), DT=axis(dtRange,dtTicks,dtTrue,dtRed,0), PHI=axis(phiRange,phiTicks,phiTrue,phiRed,1);
const M1=axis(m1Range,m1Ticks,m1True,m1Red,1), M2=axis(m2Range,m2Ticks,m2True,m2Red,1), CHI1=axis(chi1Range,chi1Ticks,chi1True,chi1Red,1), CHI2=axis(chi2Range,chi2Ticks,chi2True,chi2Red,1);
const UNIT=axis([0,1],[],[],[],1);

const pairs=f=>{const p=[];for(let i=0;i<f.length;i+=2)p.push({x:f[i],y:f[i+1]});return p;};
const closed=f=>{const p=pairs(f);p.push(p[0]);return p;};
const fmt=(v,d)=>(v<0?'\u2212':'')+Math.abs(v).toFixed(d);

function poly(list,fill,edge,w){return (list||[]).map(f=>({data:closed(f),showLine:true,pointRadius:0,tension:0.3,fill:'shape',backgroundColor:fill,borderColor:edge,borderWidth:w,capBezierPoints:false}));}
function dots(list,fill,edge,r,w){return list&&list.length?[{data:pairs(list),showLine:false,pointRadius:r,pointBackgroundColor:fill,pointBorderColor:edge,pointBorderWidth:w,backgroundColor:fill,borderColor:edge}]:[];}
function rule(data,color,w){return {data,showLine:true,pointRadius:0,tension:0,fill:false,borderColor:color,borderWidth:w,borderDash:[8,4],borderCapStyle:'butt'};}

function scaleOpts(ax,pos,show,labelled){
  const horizontal=pos==='top'||pos==='bottom';
  const rot=pos==='top'||pos==='right'?-45:45;
  const ticks={display:labelled,autoSkip:false,minRotation:rot,maxRotation:rot,color:'#111',z:2,
    font:{family:'"Liberation Serif",serif',size:17},
    callback:v=>fmt(v,ax.digits),
    padding:{bottom:14,left:22,top:35,right:22}[pos],
    labelOffset:{bottom:6,left:1,top:-17,right:0}[pos]};
  return {type:'linear',position:pos,display:true,min:ax.range[0],max:ax.range[1],
    afterBuildTicks:s=>{s.ticks=show?ax.ticks.map(v=>({value:v})):[];},
    afterFit:s=>{if(horizontal)s.height=MARGIN;else s.width=MARGIN;},
    grid:{display:true,drawOnChartArea:false,drawTicks:true,tickLength:-8,tickWidth:2,tickColor:'#000',z:2},
    border:{display:true,color:'#000',width:2,z:2},
    ticks};
}

function panel(box,xa,ya,layers,opt){
  const [l,t,r,b]=box;
  const c=document.createElement('canvas');
  const W=r-l+2*MARGIN,H=b-t+2*MARGIN;
  c.width=W;c.height=H;c.style.width=W+'px';c.style.height=H+'px';c.style.left=(l-MARGIN)+'px';c.style.top=(t-MARGIN)+'px';
  document.getElementById('fig').appendChild(c);
  const xs=xa.range,ys=ya.range,ds=[];
  ya.red.forEach(v=>ds.push(rule([{x:xs[0],y:v},{x:xs[1],y:v}],'#ff0000',3)));
  xa.red.forEach(v=>ds.push(rule([{x:v,y:ys[0]},{x:v,y:ys[1]}],'#ff0000',3)));
  ya.truth.forEach(v=>ds.push(rule([{x:xs[0],y:v},{x:xs[1],y:v}],'#000000',2.5)));
  xa.truth.forEach(v=>ds.push(rule([{x:v,y:ys[0]},{x:v,y:ys[1]}],'#000000',2.5)));
  if(layers.curve) ds.push({data:layers.curve,showLine:true,pointRadius:0,fill:false,borderColor:LINE,borderWidth:2.6,cubicInterpolationMode:'monotone'});
  ds.push(...dots(layers.pores,'#ffffff',LINE,2,1.2));
  ds.push(...dots(layers.dots,DARK,DARKEDGE,3,1.2));
  ds.push(...poly(layers.patch,LIGHT,DARKEDGE,1.5));
  ds.push(...poly(layers.dark,DARK,DARKEDGE,1.8));
  ds.push(...dots(layers.spots,LIGHT,LINE,3.5,1.8));
  ds.push(...poly(layers.voids,'#ffffff',LINE,2.2));
  ds.push(...poly(layers.light,LIGHT,LINE,2.6));
  new Chart(c,{type:'scatter',data:{datasets:ds},options:{
    responsive:false,animation:false,events:[],devicePixelRatio:1,
    layout:{autoPadding:false,padding:0},
    plugins:{legend:{display:false},tooltip:{enabled:false},title:{display:false}},
    scales:{
      x:scaleOpts(xa,'bottom',!!opt.xt,opt.xt==='bottom'),
      xt:scaleOpts(xa,'top',!!opt.xt,opt.xt==='top'),
      y:scaleOpts(ya,'left',!!opt.yt,opt.yt==='left'),
      yr:scaleOpts(ya,'right',!!opt.yt,opt.yt==='right')
    }}});
}
const curve=(xs,hs)=>({curve:xs.map((x,i)=>({x,y:hs[i]}))});

// panel edges
const colL=[86,235,383,532,680,829,978,1127], rowL=[71,211,351,490,630,770,910,1049];
const colU=[530,679,828,977,1127], rowU=[71,210,350,489,628];
const boxL=(c,r)=>[colL[c],rowL[r],colL[c+1],rowL[r+1]];
const boxU=(c,r)=>[colU[c],rowU[r],colU[c+1],rowU[r+1]];
function lower(c,r,xa,ya,layers){panel(boxL(c,r),xa,ya,layers,{xt:r===6?'bottom':null,yt:(c===0&&r>0)?'left':null});}
function upper(c,r,xa,ya,layers){panel(boxU(c,r),xa,ya,layers,{xt:r===0?'top':null,yt:(c===3&&r<3)?'right':null});}

// lower triangle
lower(0,0,LAM,UNIT,curve(lamX,lamH));
lower(0,1,LAM,BETA,{light:lamBetaLight,dark:lamBetaDark,dots:lamBetaDots,spots:lamBetaSpots});
lower(1,1,BETA,UNIT,curve(betaX,betaH));
lower(0,2,LAM,DIST,{light:lamDistLight,voids:lamDistVoid,dark:lamDistDark,dots:lamDistDots,spots:lamDistSpots,pores:lamDistPores});
lower(1,2,BETA,DIST,{light:betaDistLight,dark:betaDistDark,dots:betaDistDots});
lower(2,2,DIST,UNIT,curve(distX,distH));
lower(0,3,LAM,IOTA,{light:lamIotaLight,dark:lamIotaDark,dots:lamIotaDots});
lower(1,3,BETA,IOTA,{light:betaIotaLight,dark:betaIotaDark});
lower(2,3,DIST,IOTA,{light:distIotaLight,dark:distIotaDark});
lower(3,3,IOTA,UNIT,curve(iotaX,iotaH));
lower(0,4,LAM,PSI,{light:lamPsiLight,voids:lamPsiVoid,dark:lamPsiDark,dots:lamPsiDots,pores:lamPsiPores});
lower(1,4,BETA,PSI,{light:betaPsiLight,dark:betaPsiDark,dots:betaPsiDots,spots:betaPsiSpots});
lower(2,4,DIST,PSI,{light:distPsiLight,dark:distPsiDark,patch:distPsiPatch,dots:distPsiDots,spots:distPsiSpots});
lower(3,4,IOTA,PSI,{light:iotaPsiLight,dark:iotaPsiDark,dots:iotaPsiDots,spots:iotaPsiSpots});
lower(4,4,PSI,UNIT,curve(psiX,psiH));
lower(0,5,LAM,DT,{light:lamDtLight,voids:lamDtVoid,dark:lamDtDark,dots:lamDtDots,spots:lamDtSpots,pores:lamDtPores});
lower(1,5,BETA,DT,{light:betaDtLight,dark:betaDtDark,spots:betaDtSpots});
lower(2,5,DIST,DT,{light:distDtLight,dark:distDtDark,dots:distDtDots,spots:distDtSpots});
lower(3,5,IOTA,DT,{light:iotaDtLight,dark:iotaDtDark,dots:iotaDtDots,spots:iotaDtSpots});
lower(4,5,PSI,DT,{light:psiDtLight,dark:psiDtDark,patch:psiDtPatch,dots:psiDtDots,spots:psiDtSpots});
lower(5,5,DT,UNIT,curve(dtX,dtH));
lower(0,6,LAM,PHI,{light:lamPhiLight,voids:lamPhiVoid,dark:lamPhiDark,dots:lamPhiDots,spots:lamPhiSpots,pores:lamPhiPores});
lower(1,6,BETA,PHI,{light:betaPhiLight,dark:betaPhiDark,dots:betaPhiDots,spots:betaPhiSpots});
lower(2,6,DIST,PHI,{light:distPhiLight,dark:distPhiDark,patch:distPhiPatch,dots:distPhiDots,spots:distPhiSpots});
lower(3,6,IOTA,PHI,{light:iotaPhiLight,dark:iotaPhiDark,dots:iotaPhiDots,spots:iotaPhiSpots});
lower(4,6,PSI,PHI,{light:psiPhiLight,voids:psiPhiVoid,dark:psiPhiDark,patch:psiPhiPatch,pores:psiPhiPores});
lower(5,6,DT,PHI,{light:dtPhiLight,voids:dtPhiVoid,dark:dtPhiDark,patch:dtPhiPatch,dots:dtPhiDots,spots:dtPhiSpots});
lower(6,6,PHI,UNIT,curve(phiX,phiH));
// upper triangle
upper(0,0,M1,UNIT,curve(m1X,m1H));
upper(1,0,M2,M1,{light:m2m1Light,dark:m2m1Dark,dots:m2m1Dots});
upper(2,0,CHI1,M1,{light:chi1m1Light,voids:chi1m1Void,dark:chi1m1Dark,dots:chi1m1Dots});
upper(3,0,CHI2,M1,{light:chi2m1Light,voids:chi2m1Void,dark:chi2m1Dark,dots:chi2m1Dots,spots:chi2m1Spots});
upper(1,1,M2,UNIT,curve(m2X,m2H));
upper(2,1,CHI1,M2,{light:chi1m2Light,voids:chi1m2Void,dark:chi1m2Dark,dots:chi1m2Dots});
upper(3,1,CHI2,M2,{light:chi2m2Light,voids:chi2m2Void,dark:chi2m2Dark,patch:chi2m2Patch,dots:chi2m2Dots,spots:chi2m2Spots});
upper(2,2,CHI1,UNIT,curve(chi1X,chi1H));
upper(3,2,CHI2,CHI1,{light:chi2chi1Light,voids:chi2chi1Void,dark:chi2chi1Dark,dots:chi2chi1Dots,spots:chi2chi1Spots});
upper(3,3,CHI2,UNIT,curve(chi2X,chi2H));

// axis titles
function label(html,x,y,rot){const d=document.createElement('div');d.className='lab';d.innerHTML=html;d.style.left=x+'px';d.style.top=y+'px';d.style.transform='translate(-50%,-50%)'+(rot?' rotate('+rot+'deg)':'');document.getElementById('fig').appendChild(d);}
label(lamName,167,1117);label(betaName,309,1117);label(distName,458,1110);label(iotaName,606,1108);label(psiName,749,1108);label(dtName,905,1115);label(phiName,1052,1108);
label(betaName,20,283,-90);label(distName,27,420,-90);label(iotaName,30,562,-90);label(psiName,30,692,-90);label(dtName,22,832,-90);label(phiName,30,978,-90);
label(m1Name,603,18);label(m2Name,753,18);label(chi1Name,903,10);label(chi2Name,1052,10);
label(m1Name,1187,140,-90);label(m2Name,1187,280,-90);label(chi1Name,1198,420,-90);
</script></body></html>
